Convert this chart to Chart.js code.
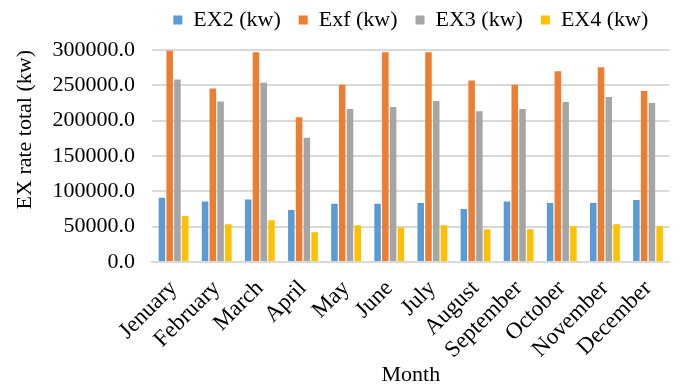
<!DOCTYPE html>
<html lang="en">
<head>
    <title>EX rate total by month</title>
    <style>
        html, body { margin: 0; padding: 0; background: #fff; }
        .wrap { width: 681px; height: 388px; }
    </style>
</head>
<body>
    <div class="wrap"><canvas id="chart" width="681" height="388"></canvas></div>
    <script src="https://cdn.jsdelivr.net/npm/chart.js@4/dist/chart.umd.min.js"></script>
    <script>
        // data
        const months = ['Jenuary', 'February', 'March', 'April', 'May', 'June', 'July', 'August', 'September', 'October', 'November', 'December'];
        const ex2 = [91000, 85500, 88300, 73600, 82600, 82600, 83500, 75000, 85500, 83500, 83500, 87700];
        const exf = [299000, 245400, 296700, 204700, 251000, 296700, 296700, 256700, 251000, 269800, 275500, 242000];
        const ex3 = [258100, 227000, 253800, 176000, 216500, 219300, 227800, 213200, 216500, 226400, 233500, 225000];
        const ex4 = [65100, 53300, 59000, 42000, 51900, 48700, 51900, 46300, 46300, 50500, 53300, 50500];
        const seriesNames = ['EX2 (kw)', 'Exf (kw)', 'EX3 (kw)', 'EX4 (kw)'];
        const seriesColors = ['#5B9BD5', '#ED7D31', '#A5A5A5', '#FFC000'];

        const font = 'Liberation Serif, Times New Roman, serif';
        Chart.defaults.font.family = font;
        Chart.defaults.color = '#000';

        const datasets = [ex2, exf, ex3, ex4].map((vals, i) => ({
            label: seriesNames[i],
            data: vals,
            backgroundColor: seriesColors[i],
            categoryPercentage: 0.72,
            barPercentage: 0.84
        }));

        // centre the legend over the plot area and lift it a bit, like the excel original
        const legendShift = {
            id: 'legendShift',
            afterLayout(chart) {
                const lg = chart.legend;
                const area = chart.chartArea;
                if (!lg) return;
                lg.left = area.left;
                lg.right = area.right;
                lg.top -= 9;
                lg.bottom -= 9;
            }
        };

        new Chart(document.getElementById('chart'), {
            type: 'bar',
            data: { labels: months, datasets: datasets },
            options: {
                responsive: false,
                animation: false,
                layout: { padding: { top: 0, right: 11, left: 0, bottom: 0 } },
                plugins: {
                    legend: {
                        labels: {
                            font: { size: 22 },
                            boxWidth: 9,
                            boxHeight: 9,
                            padding: 18
                        }
                    },
                    tooltip: { enabled: false }
                },
                scales: {
                    x: {
                        grid: { display: false, drawTicks: false },
                        border: { color: '#d9d9d9', width: 2 },
                        ticks: { font: { size: 23 }, maxRotation: 45, minRotation: 45, padding: 13, autoSkip: false },
                        title: { display: true, text: 'Month', font: { size: 22 }, padding: 0 },
                        afterFit: (axis) => { axis.height = 126; }
                    },
                    y: {
                        min: 0,
                        max: 300000,
                        grid: { color: '#d9d9d9', lineWidth: 2, drawTicks: false },
                        border: { display: false },
                        ticks: {
                            stepSize: 50000,
                            font: { size: 22 },
                            padding: 17,
                            callback: (v) => Number(v).toFixed(1)
                        },
                        title: {
                            display: true,
                            text: 'EX rate total (kw)',
                            font: { size: 22 },
                            align: 'end',
                            padding: { top: 12, bottom: 0 }
                        },
                        afterFit: (axis) => { axis.width = 152; }
                    }
                }
            },
            plugins: [legendShift]
        });
    </script>
</body>
</html>
